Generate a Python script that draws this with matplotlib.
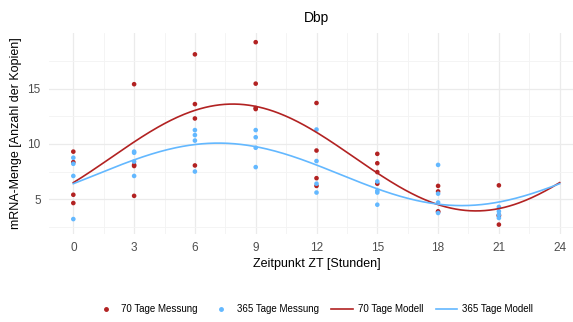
import numpy as np
import matplotlib
matplotlib.use("Agg")
import matplotlib.pyplot as plt
from matplotlib.lines import Line2D

plt.rcParams['font.family'] = ['Liberation Sans', 'DejaVu Sans']

# Messwerte (Zeitpunkt ZT in Stunden, mRNA-Menge)
zt_70 = [0, 0, 0, 0, 3, 3, 3, 3, 6, 6, 6, 6, 9, 9, 9, 9,
         12, 12, 12, 12, 15, 15, 15, 15, 18, 18, 18, 18, 21, 21, 21, 21]
werte_70 = [9.3, 8.35, 5.4, 4.65, 15.4, 8.1, 8.0, 5.3, 18.1, 13.6, 12.3, 8.05,
            19.2, 15.45, 13.25, 13.15, 13.7, 9.4, 6.9, 6.2,
            9.1, 8.25, 7.45, 6.4, 6.2, 5.7, 3.9, 3.85, 6.25, 3.55, 3.5, 2.7]

zt_365 = [0, 0, 0, 0, 3, 3, 3, 3, 6, 6, 6, 6, 9, 9, 9, 9,
          12, 12, 12, 12, 15, 15, 15, 15, 18, 18, 18, 18, 21, 21, 21, 21]
werte_365 = [8.75, 8.2, 7.1, 3.2, 9.3, 9.2, 8.4, 7.1, 11.25, 10.8, 10.3, 7.5,
             11.25, 10.6, 9.65, 7.9, 11.3, 8.45, 6.4, 5.6,
             6.6, 5.75, 5.6, 4.5, 8.1, 5.5, 4.7, 3.75, 4.3, 3.9, 3.6, 3.3]

x_ticks = [0, 3, 6, 9, 12, 15, 18, 21, 24]
y_ticks = [5, 10, 15]

rot = '#B22222'
blau = '#63B8FF'


def cosinor(t, y, t_neu):
    # Cosinor-Modell mit 24 h Periode, per kleinste Quadrate
    t = np.asarray(t, float)
    w = 2 * np.pi / 24
    A = np.column_stack([np.ones_like(t), np.cos(w * t), np.sin(w * t)])
    c = np.linalg.lstsq(A, np.asarray(y, float), rcond=None)[0]
    return c[0] + c[1] * np.cos(w * t_neu) + c[2] * np.sin(w * t_neu)


t_modell = np.linspace(0, 24, 300)
modell_70 = cosinor(zt_70, werte_70, t_modell)
modell_365 = cosinor(zt_365, werte_365, t_modell)

fig = plt.figure(figsize=(5.73, 3.22), dpi=100)
ax = fig.add_axes([49 / 573, 1 - 234 / 322, (584 - 49) / 573, (234 - 33) / 322])

ax.scatter(zt_70, werte_70, s=11, color=rot, edgecolors='none', zorder=3)
ax.scatter(zt_365, werte_365, s=11, color=blau, edgecolors='none', zorder=3)
ax.plot(t_modell, modell_70, color=rot, lw=1.2, zorder=4)
ax.plot(t_modell, modell_365, color=blau, lw=1.2, zorder=4)

ax.set_xlim(-1.2, 25.2)
ax.set_ylim(1.85, 20.03)
ax.set_xticks(x_ticks)
ax.set_yticks(y_ticks)
ax.set_xticks(np.arange(1.5, 24, 3), minor=True)
ax.set_yticks([2.5, 7.5, 12.5, 17.5], minor=True)
ax.grid(which='major', color='#EBEBEB', lw=0.9)
ax.grid(which='minor', color='#F3F3F3', lw=0.6)
ax.set_axisbelow(True)
for s in ax.spines.values():
    s.set_visible(False)
ax.tick_params(which='both', length=0, labelsize=8.5, labelcolor='#4D4D4D', pad=6)

ax.set_title('Dbp', fontsize=10, pad=8)
ax.set_xlabel('Zeitpunkt ZT [Stunden]', fontsize=9, labelpad=3)
ax.set_ylabel('mRNA-Menge [Anzahl der Kopien]', fontsize=9, labelpad=4)

handles = [
    Line2D([], [], marker='o', ls='none', color=rot, markersize=2.5),
    Line2D([], [], marker='o', ls='none', color=blau, markersize=2.5),
    Line2D([], [], color=rot, lw=1.2),
    Line2D([], [], color=blau, lw=1.2),
]
labels = ['70 Tage Messung', '365 Tage Messung', '70 Tage Modell', '365 Tage Modell']
fig.legend(handles, labels, loc='center', bbox_to_anchor=(314 / 573, 1 - 309 / 322),
           ncol=4, frameon=False, fontsize=7, handlelength=2.2, columnspacing=1.3,
           handletextpad=0.5)

fig.savefig('out.png', dpi=100)
